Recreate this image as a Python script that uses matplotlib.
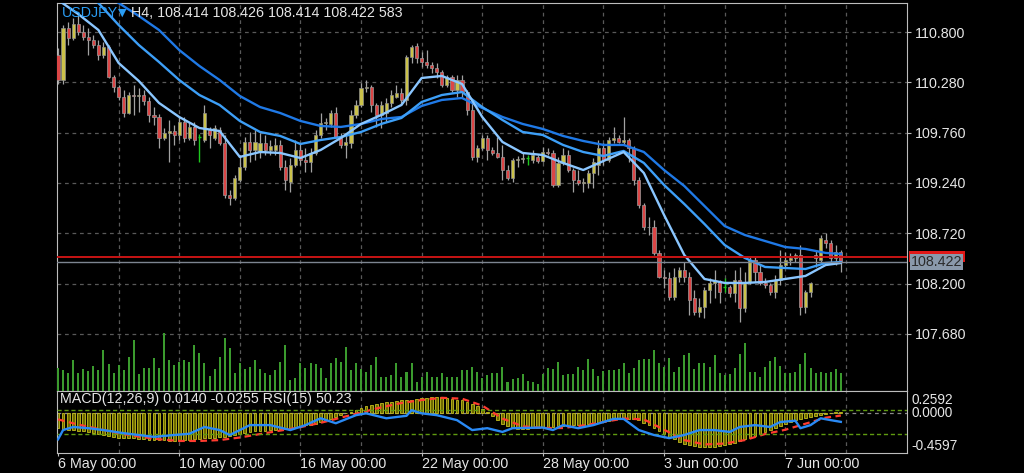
"""
USDJPY H4 chart, MetaTrader look: candles + 3 MAs + volume,
MACD(12,26,9) with RSI(15) in the lower pane.
"""

import numpy as np
import matplotlib
matplotlib.use("Agg")
import matplotlib.pyplot as plt
from matplotlib.patches import Rectangle

# ---------- data ----------------------------------------------------------
opens = [110.56, 110.30, 110.84, 110.74, 110.88, 110.80, 110.75, 110.72, 110.67, 110.56,
         110.65, 110.34, 110.23, 110.13, 109.96, 110.15, 110.14, 110.15, 110.09, 109.94,
         109.92, 109.70, 109.76, 109.78, 109.74, 109.87, 109.70, 109.82, 109.72, 109.68,
         109.79, 109.70, 109.79, 109.65, 109.12, 109.08, 109.27, 109.41, 109.66, 109.58,
         109.56, 109.65, 109.58, 109.58, 109.63, 109.41, 109.25, 109.43, 109.58, 109.48,
         109.46, 109.55, 109.74, 109.86, 109.85, 109.96, 109.72, 109.63, 109.65, 109.94,
         110.05, 110.22, 110.23, 110.05, 109.94, 109.96, 110.07, 110.13, 110.17, 110.10,
         110.54, 110.66, 110.53, 110.49, 110.46, 110.43, 110.39, 110.25, 110.34, 110.20,
         110.30, 110.18, 109.99, 109.51, 109.60, 109.70, 109.58, 109.55, 109.51, 109.37,
         109.29, 109.48, 109.49, 109.50, 109.48, 109.51, 109.47, 109.56, 109.55, 109.22,
         109.45, 109.53, 109.37, 109.27, 109.24, 109.24, 109.34, 109.43, 109.60, 109.48,
         109.68, 109.70, 109.66, 109.68, 109.60, 109.27, 109.01, 108.79, 108.79, 108.52,
         108.27, 108.26, 108.06, 108.27, 108.34, 108.27, 108.05, 107.91, 107.96, 108.13,
         108.21, 108.23, 108.16, 108.16, 108.10, 108.24, 107.95, 108.22, 108.44, 108.32,
         108.21, 108.19, 108.11, 108.24, 108.39, 108.44, 108.46, 108.50, 107.96, 108.11,
         108.50, 108.44, 108.65, 108.62, 108.46, 108.53]
highs = [110.63, 110.87, 110.90, 110.95, 110.98, 110.87, 110.84, 110.77, 110.72, 110.70,
         110.67, 110.36, 110.25, 110.20, 110.18, 110.25, 110.22, 110.20, 110.13, 110.02,
         109.95, 109.81, 109.89, 109.84, 109.92, 109.92, 109.87, 109.87, 109.75, 110.05,
         109.82, 109.84, 109.82, 109.74, 109.17, 109.32, 109.53, 109.72, 109.77, 109.79,
         109.76, 109.74, 109.68, 109.70, 109.68, 109.48, 109.50, 109.68, 109.65, 109.60,
         109.60, 109.79, 109.96, 109.91, 109.99, 110.03, 109.76, 109.74, 109.99, 110.10,
         110.27, 110.30, 110.25, 110.07, 110.09, 110.12, 110.20, 110.25, 110.22, 110.56,
         110.67, 110.69, 110.59, 110.61, 110.49, 110.48, 110.41, 110.36, 110.36, 110.36,
         110.36, 110.20, 110.10, 109.63, 109.74, 109.74, 109.61, 109.72, 109.63, 109.43,
         109.50, 109.52, 109.55, 109.53, 109.58, 109.53, 109.61, 109.60, 109.58, 109.51,
         109.60, 109.58, 109.39, 109.37, 109.29, 109.37, 109.50, 109.68, 109.65, 109.72,
         109.82, 109.74, 109.92, 109.70, 109.62, 109.30, 109.03, 108.89, 108.86, 108.55,
         108.34, 108.32, 108.36, 108.37, 108.42, 108.32, 108.13, 108.05, 108.16, 108.26,
         108.34, 108.24, 108.26, 108.19, 108.34, 108.37, 108.32, 108.47, 108.47, 108.39,
         108.26, 108.21, 108.29, 108.55, 108.53, 108.52, 108.52, 108.60, 108.13, 108.22,
         108.55, 108.70, 108.72, 108.65, 108.60, 108.55]
lows = [110.26, 110.26, 110.67, 110.72, 110.77, 110.72, 110.56, 110.63, 110.51, 110.53,
        110.33, 110.18, 110.10, 109.92, 109.95, 109.94, 109.97, 110.05, 109.87, 109.84,
        109.60, 109.68, 109.46, 109.63, 109.68, 109.66, 109.68, 109.63, 109.46, 109.66,
        109.60, 109.68, 109.63, 109.08, 109.01, 109.06, 109.25, 109.37, 109.46, 109.48,
        109.50, 109.53, 109.53, 109.53, 109.37, 109.17, 109.15, 109.40, 109.43, 109.35,
        109.35, 109.53, 109.70, 109.79, 109.82, 109.70, 109.60, 109.50, 109.60, 109.91,
        110.02, 110.18, 109.97, 109.82, 109.81, 109.87, 110.03, 110.12, 110.05, 110.05,
        110.48, 110.48, 110.44, 110.43, 110.38, 110.33, 110.23, 110.23, 110.18, 110.13,
        110.13, 109.94, 109.48, 109.46, 109.58, 109.48, 109.53, 109.50, 109.27, 109.27,
        109.25, 109.40, 109.45, 109.43, 109.45, 109.45, 109.46, 109.53, 109.20, 109.20,
        109.43, 109.35, 109.15, 109.22, 109.15, 109.19, 109.19, 109.32, 109.43, 109.46,
        109.65, 109.65, 109.63, 109.46, 109.22, 108.98, 108.75, 108.70, 108.50, 108.26,
        108.15, 108.03, 108.03, 108.22, 108.22, 107.88, 107.88, 107.85, 107.84, 108.00,
        108.05, 108.00, 108.11, 108.06, 108.01, 107.80, 107.91, 108.20, 108.22, 108.19,
        108.15, 108.08, 108.05, 108.19, 108.36, 108.39, 108.42, 107.88, 107.90, 108.06,
        108.37, 108.42, 108.57, 108.42, 108.39, 108.32]
closes = [110.30, 110.84, 110.74, 110.88, 110.80, 110.75, 110.72, 110.67, 110.56, 110.65,
          110.34, 110.23, 110.13, 109.96, 110.15, 110.14, 110.15, 110.09, 109.94, 109.92,
          109.70, 109.76, 109.78, 109.74, 109.87, 109.70, 109.82, 109.68, 109.72, 109.96,
          109.74, 109.81, 109.65, 109.12, 109.08, 109.29, 109.41, 109.66, 109.58, 109.66,
          109.65, 109.58, 109.62, 109.63, 109.41, 109.27, 109.43, 109.58, 109.48, 109.46,
          109.55, 109.74, 109.86, 109.87, 109.96, 109.72, 109.63, 109.66, 109.94, 110.05,
          110.22, 110.23, 110.05, 109.94, 110.05, 110.07, 110.15, 110.17, 110.10, 110.54,
          110.65, 110.53, 110.49, 110.46, 110.43, 110.39, 110.25, 110.34, 110.20, 110.30,
          110.18, 109.99, 109.51, 109.60, 109.70, 109.58, 109.55, 109.51, 109.37, 109.29,
          109.48, 109.49, 109.50, 109.50, 109.53, 109.47, 109.56, 109.55, 109.22, 109.45,
          109.53, 109.37, 109.27, 109.24, 109.25, 109.34, 109.46, 109.60, 109.48, 109.68,
          109.70, 109.66, 109.68, 109.60, 109.27, 109.01, 108.79, 108.78, 108.52, 108.27,
          108.26, 108.06, 108.27, 108.34, 108.27, 108.03, 107.91, 107.96, 108.13, 108.21,
          108.23, 108.11, 108.16, 108.10, 108.24, 107.95, 108.22, 108.44, 108.32, 108.21,
          108.19, 108.11, 108.24, 108.39, 108.44, 108.46, 108.50, 107.96, 108.11, 108.21,
          108.46, 108.67, 108.62, 108.46, 108.53, 108.422]
volumes = [750, 690, 580, 1020, 580, 720, 660, 830, 690, 1350,
           890, 580, 860, 690, 1120, 1680, 560, 750, 750, 1080,
           750, 1900, 1020, 860, 960, 1020, 960, 1520, 1240, 910,
           500, 720, 1120, 1740, 1410, 600, 910, 720, 800, 1020,
           720, 600, 530, 690, 960, 1520, 360, 420, 910, 750,
           910, 890, 750, 420, 910, 1080, 970, 1460, 690, 910,
           720, 640, 860, 1120, 470, 470, 530, 910, 470, 640,
           920, 310, 470, 640, 470, 470, 580, 470, 470, 470,
           690, 690, 800, 640, 420, 530, 580, 580, 800, 310,
           390, 420, 550, 340, 310, 230, 560, 750, 720, 970,
           530, 550, 550, 800, 690, 1050, 720, 500, 670, 690,
           690, 720, 930, 580, 750, 1020, 1050, 1050, 1350, 910,
           800, 1080, 640, 800, 1190, 1240, 720, 910, 910, 780,
           1190, 600, 530, 560, 750, 1220, 1570, 640, 640, 470,
           800, 1000, 1110, 830, 580, 600, 640, 890, 1240, 750,
           600, 640, 600, 640, 720, 583]

# moving averages, read every 4th bar
ma_bars = list(range(0, 156, 4)) + [155]
ma_fast = [111.131, 110.986, 110.821, 110.480, 110.294, 110.067, 109.922, 109.808, 109.777, 109.509,
           109.560, 109.550, 109.498, 109.581, 109.705, 109.850, 109.943, 110.046, 110.325, 110.346,
           110.263, 109.922, 109.664, 109.550, 109.529, 109.447, 109.374, 109.467, 109.560, 109.343,
           108.909, 108.496, 108.248, 108.207, 108.207, 108.217, 108.248, 108.279, 108.392, 108.413]
ma_mid = [111.441, 111.276, 111.100, 110.873, 110.666, 110.490, 110.304, 110.149, 110.046, 109.881,
          109.767, 109.726, 109.643, 109.684, 109.715, 109.767, 109.850, 109.912, 110.077, 110.149,
          110.180, 110.025, 109.891, 109.767, 109.736, 109.633, 109.560, 109.519, 109.571, 109.447,
          109.219, 109.023, 108.816, 108.599, 108.465, 108.372, 108.361, 108.351, 108.413, 108.423]
ma_slow = [111.524, 111.389, 111.245, 111.100, 110.966, 110.821, 110.614, 110.449, 110.304, 110.139,
           110.025, 109.963, 109.881, 109.829, 109.819, 109.850, 109.901, 109.922, 110.036, 110.098,
           110.118, 110.015, 109.922, 109.850, 109.798, 109.726, 109.674, 109.633, 109.633, 109.560,
           109.374, 109.209, 109.002, 108.795, 108.702, 108.640, 108.578, 108.558, 108.517, 108.506]

# MACD main (histogram, one per bar) and signal (every 4th bar)
macd = [-0.17, -0.18, -0.19, -0.19, -0.20, -0.21, -0.22, -0.23, -0.24, -0.25,
        -0.26, -0.27, -0.28, -0.28, -0.29, -0.29, -0.30, -0.30, -0.31, -0.31,
        -0.31, -0.31, -0.32, -0.32, -0.31, -0.31, -0.31, -0.30, -0.30, -0.29,
        -0.28, -0.28, -0.27, -0.27, -0.26, -0.25, -0.24, -0.23, -0.22, -0.21,
        -0.20, -0.20, -0.19, -0.19, -0.18, -0.18, -0.17, -0.16, -0.15, -0.14,
        -0.13, -0.12, -0.10, -0.08, -0.06, -0.04, -0.02, 0.00, 0.02, 0.04,
        0.06, 0.08, 0.10, 0.11, 0.12, 0.13, 0.13, 0.14, 0.15, 0.155,
        0.16, 0.17, 0.18, 0.18, 0.19, 0.19, 0.19, 0.18, 0.17, 0.16,
        0.15, 0.13, 0.11, 0.08, 0.05, 0.01, -0.03, -0.08, -0.12, -0.15,
        -0.17, -0.18, -0.18, -0.18, -0.17, -0.17, -0.16, -0.16, -0.16, -0.15,
        -0.15, -0.15, -0.14, -0.14, -0.13, -0.12, -0.11, -0.11, -0.10, -0.09,
        -0.08, -0.07, -0.06, -0.06, -0.07, -0.08, -0.11, -0.14, -0.17, -0.20,
        -0.24, -0.27, -0.30, -0.33, -0.35, -0.37, -0.38, -0.39, -0.39, -0.39,
        -0.39, -0.38, -0.37, -0.36, -0.34, -0.32, -0.30, -0.28, -0.26, -0.24,
        -0.22, -0.19, -0.17, -0.15, -0.12, -0.10, -0.08, -0.06, -0.05, -0.04,
        -0.03, -0.02, -0.01, 0.005, 0.01, 0.014]
signal = [-0.07, -0.13, -0.18, -0.23, -0.27, -0.30, -0.32, -0.32, -0.31, -0.28,
          -0.24, -0.20, -0.16, -0.11, -0.05, 0.01, 0.07, 0.12, 0.155, 0.18,
          0.17, 0.09, -0.06, -0.15, -0.17, -0.17, -0.14, -0.10, -0.06, -0.07,
          -0.19, -0.31, -0.36, -0.35, -0.31, -0.24, -0.19, -0.12, -0.05, -0.0255]

rsi_bars = [0, 1, 3, 6, 9, 13, 16, 19, 23, 26, 29, 32, 34, 36, 38, 42, 46, 49, 52,
            55, 59, 61, 65, 69, 70, 72, 75, 79, 82, 85, 88, 90, 96, 98, 100, 103,
            106, 108, 110, 112, 115, 118, 121, 124, 127, 130, 133, 135, 138, 141,
            143, 146, 147, 149, 151, 153, 155]
rsi_vals = [22, 37, 42, 40, 37, 32, 29, 26, 29, 31, 42, 37, 29, 37, 45, 45, 37, 45, 56,
            48, 61, 64, 56, 60, 69, 64, 61, 53, 37, 40, 34, 40, 41, 37, 45, 40,
            45, 50, 55, 55, 37, 29, 24, 29, 37, 37, 34, 42, 45, 42,
            50, 52, 40, 45, 56, 53, 50.23]

price_ticks = [110.800, 110.280, 109.760, 109.240, 108.720, 108.200, 107.680]
label_bars = [0, 24, 48, 72, 96, 120, 144]
time_labels = ["6 May 00:00", "10 May 00:00", "16 May 00:00", "22 May 00:00",
               "28 May 00:00", "3 Jun 00:00", "7 Jun 00:00"]
bid, ask = 108.422, 108.470
macd_top, macd_bot = 0.2592, -0.4597

# ---------- style ---------------------------------------------------------
BG, FG, FRAME, GRID = "black", "#e6e6e6", "#bdbdbd", "#595959"
BULL, BEAR, WICK = "#cbc24a", "#dc4646", "#a2a2a2"
plt.rcParams["font.family"] = ["Liberation Sans", "DejaVu Sans"]
plt.rcParams["font.size"] = 10.3
DASH = (0, (3, 3))

W, H = 1024, 473
fig = plt.figure(figsize=(W / 100, H / 100), dpi=100, facecolor=BG)
ax = fig.add_axes([57 / W, 1 - 391 / H, 850 / W, 388 / H], facecolor=BG)
axm = fig.add_axes([57 / W, 1 - 453 / H, 850 / W, 62 / H], facecolor=BG)
XLIM = (-0.2, 168.1)

o, h, l, c = map(np.array, (opens, highs, lows, closes))
x = np.arange(len(c))

# volume on a twin scale at the foot of the price pane
axv = ax.twinx()
axv.bar(x, volumes, width=0.4, color="#3b9b2e", zorder=2)
axv.set_ylim(0, 12800)
axv.set_yticks([])
for s in axv.spines.values():
    s.set_visible(False)

# grid
for a in (ax, axm):
    for g in range(12, 168, 12):
        a.axvline(g, color=GRID, lw=0.9, ls=DASH, zorder=0)
for p in price_ticks:
    ax.axhline(p, color=GRID, lw=0.9, ls=DASH, zorder=0)

# candles
flat = c == o
up = c > o
dn = c < o
ax.vlines(x[~flat], l[~flat], h[~flat], color=WICK, lw=0.9, zorder=3)
ax.vlines(x[flat], l[flat], h[flat], color="#1ec81e", lw=1.0, zorder=3)
ax.hlines(c[flat], x[flat] - 0.3, x[flat] + 0.3, color="#1ec81e", lw=1.0, zorder=3)
ax.bar(x[up], (c - o)[up], bottom=o[up], width=0.62, color=BULL,
       edgecolor="#8e8e8e", lw=0.5, zorder=4)
ax.bar(x[dn], (o - c)[dn], bottom=c[dn], width=0.62, color=BEAR,
       edgecolor="#9a9a9a", lw=0.5, zorder=4)

# moving averages
ax.plot(ma_bars, ma_slow, color="#1f79e6", lw=1.7, zorder=5)
ax.plot(ma_bars, ma_mid, color="#3d9ff7", lw=1.7, zorder=5)
ax.plot(ma_bars, ma_fast, color="#8ac6ff", lw=1.7, zorder=5)

# ask / bid lines; the ask box sits mostly hidden behind the bid box
ax.axhline(ask, color="#c81414", lw=1.4, zorder=6)
ax.axhline(bid, color="#7d8591", lw=1.0, zorder=6)
ax.add_patch(Rectangle((1.002, bid), 0.066, 0.115,
                       transform=ax.get_yaxis_transform(), clip_on=False,
                       fc="#e01818", ec="none", zorder=7))
ax.annotate(f"{bid:.3f}", xy=(1, bid), xycoords=("axes fraction", "data"),
            xytext=(2.5, 0), textcoords="offset points", va="center", ha="left",
            color="#2a2a2a", fontsize=10.3, annotation_clip=False, zorder=8,
            bbox=dict(boxstyle="square,pad=0.06", fc="#8a99ab", ec="none"))

ax.set_xlim(XLIM)
axv.set_xlim(XLIM)
ax.set_ylim(107.090, 111.100)
ax.set_xticks([])
ax.yaxis.tick_right()
ax.set_yticks(price_ticks)
ax.set_yticklabels([f"{p:.3f}" for p in price_ticks])
ax.tick_params(axis="y", colors=FG, color=FRAME, length=3, width=0.8, pad=3)
for s in ax.spines.values():
    s.set_color(FRAME)

# ---------- MACD + RSI pane -----------------------------------------------
axm.set_xlim(XLIM)
axm.set_ylim(macd_bot, macd_top)
axm.bar(x, macd, width=0.55, color="#6e6a00", edgecolor="#c4be1e", lw=0.6, zorder=2)
axm.axhline(0, color="#8a8a8a", lw=0.9, ls=DASH, zorder=1)
axm.plot(ma_bars, signal, color="#ff3b2f", lw=1.6, ls=(0, (3, 2)), zorder=4)

axr = axm.twinx()
axr.set_xlim(XLIM)
axr.set_ylim(0, 100)
axr.set_yticks([])
for lev in (70, 30):
    axr.axhline(lev, color="#5f9a10", lw=1.0, ls=(0, (3, 2)), zorder=1)
axr.plot(rsi_bars, rsi_vals, color="#2a8af5", lw=1.7, zorder=5)
for s in axr.spines.values():
    s.set_visible(False)

axm.set_yticks([])
axm.set_xticks(label_bars)
axm.set_xticklabels(time_labels, ha="left")
axm.tick_params(axis="x", colors=FG, color=FRAME, length=2.5, width=0.8, pad=0.5)
for s in axm.spines.values():
    s.set_color(FRAME)

for val, va, dy in ((macd_top, "top", -1.5), (0.0, "center", 0), (macd_bot, "bottom", 0)):
    axm.annotate(f"{val:.4f}", xy=(1, val), xycoords=("axes fraction", "data"),
                 xytext=(3.5, dy), textcoords="offset points", va=va, ha="left",
                 color=FG, fontsize=9.8, annotation_clip=False)

# ---------- header texts --------------------------------------------------
def px_text(px, py, s, **kw):
    fig.text(px / W, 1 - py / H, s, va="center", ha="left", **kw)

px_text(62, 13, "USDJPY", color="#2a9df4")
px_text(118, 13, "\u25bc", color="#2a9df4", fontsize=8, family="DejaVu Sans")
px_text(131, 13, "H4, 108.414 108.426 108.414 108.422 583", color=FG)
px_text(60, 399, "MACD(12,26,9) 0.0140 -0.0255 RSI(15) 50.23", color=FG)

fig.savefig("out.png", dpi=100, facecolor=BG)
